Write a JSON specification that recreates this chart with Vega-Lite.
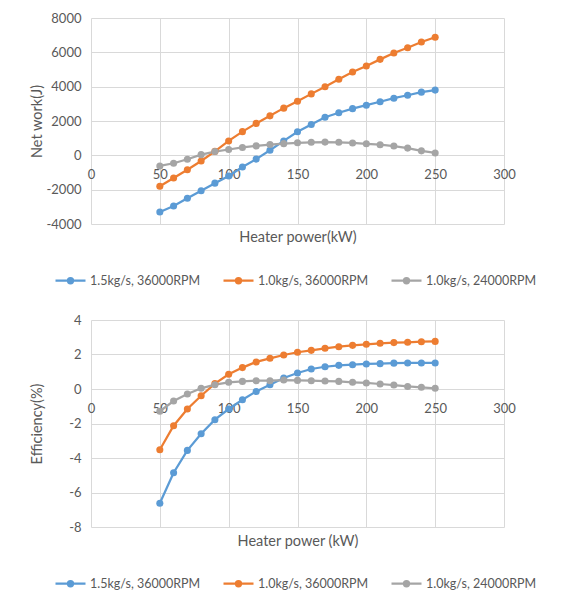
{
  "$schema": "https://vega.github.io/schema/vega-lite/v6.json",
  "background": "white",
  "padding": {"left": 29, "top": 12, "right": 5, "bottom": 5},
  "spacing": 26,
  "config": {
    "font": "Lato",
    "view": {"stroke": null},
    "axis": {
      "gridColor": "#d9d9d9",
      "gridWidth": 1,
      "domain": false,
      "ticks": false,
      "labelColor": "#595959",
      "titleColor": "#595959",
      "labelFontSize": 13,
      "titleFontSize": 14.5,
      "titleFontWeight": "normal",
      "labelPadding": 10,
      "labelOverlap": false
    }
  },
  "datasets": {
    "d": [
      {"power": 50, "series": "1.5kg/s, 36000RPM", "work": -3300, "eff": -6.62},
      {"power": 60, "series": "1.5kg/s, 36000RPM", "work": -2950, "eff": -4.85},
      {"power": 70, "series": "1.5kg/s, 36000RPM", "work": -2500, "eff": -3.56},
      {"power": 80, "series": "1.5kg/s, 36000RPM", "work": -2060, "eff": -2.59},
      {"power": 90, "series": "1.5kg/s, 36000RPM", "work": -1620, "eff": -1.78},
      {"power": 100, "series": "1.5kg/s, 36000RPM", "work": -1200, "eff": -1.16},
      {"power": 110, "series": "1.5kg/s, 36000RPM", "work": -680, "eff": -0.62},
      {"power": 120, "series": "1.5kg/s, 36000RPM", "work": -220, "eff": -0.14},
      {"power": 130, "series": "1.5kg/s, 36000RPM", "work": 300, "eff": 0.25},
      {"power": 140, "series": "1.5kg/s, 36000RPM", "work": 840, "eff": 0.64},
      {"power": 150, "series": "1.5kg/s, 36000RPM", "work": 1370, "eff": 0.93},
      {"power": 160, "series": "1.5kg/s, 36000RPM", "work": 1800, "eff": 1.16},
      {"power": 170, "series": "1.5kg/s, 36000RPM", "work": 2220, "eff": 1.29},
      {"power": 180, "series": "1.5kg/s, 36000RPM", "work": 2480, "eff": 1.37},
      {"power": 190, "series": "1.5kg/s, 36000RPM", "work": 2720, "eff": 1.41},
      {"power": 200, "series": "1.5kg/s, 36000RPM", "work": 2920, "eff": 1.45},
      {"power": 210, "series": "1.5kg/s, 36000RPM", "work": 3120, "eff": 1.47},
      {"power": 220, "series": "1.5kg/s, 36000RPM", "work": 3330, "eff": 1.5},
      {"power": 230, "series": "1.5kg/s, 36000RPM", "work": 3500, "eff": 1.51},
      {"power": 240, "series": "1.5kg/s, 36000RPM", "work": 3680, "eff": 1.51},
      {"power": 250, "series": "1.5kg/s, 36000RPM", "work": 3800, "eff": 1.51},
      {"power": 50, "series": "1.0kg/s, 36000RPM", "work": -1800, "eff": -3.52},
      {"power": 60, "series": "1.0kg/s, 36000RPM", "work": -1320, "eff": -2.13},
      {"power": 70, "series": "1.0kg/s, 36000RPM", "work": -840, "eff": -1.16},
      {"power": 80, "series": "1.0kg/s, 36000RPM", "work": -330, "eff": -0.39},
      {"power": 90, "series": "1.0kg/s, 36000RPM", "work": 230, "eff": 0.31},
      {"power": 100, "series": "1.0kg/s, 36000RPM", "work": 840, "eff": 0.85},
      {"power": 110, "series": "1.0kg/s, 36000RPM", "work": 1380, "eff": 1.24},
      {"power": 120, "series": "1.0kg/s, 36000RPM", "work": 1860, "eff": 1.57},
      {"power": 130, "series": "1.0kg/s, 36000RPM", "work": 2300, "eff": 1.78},
      {"power": 140, "series": "1.0kg/s, 36000RPM", "work": 2750, "eff": 1.97},
      {"power": 150, "series": "1.0kg/s, 36000RPM", "work": 3150, "eff": 2.13},
      {"power": 160, "series": "1.0kg/s, 36000RPM", "work": 3580, "eff": 2.24},
      {"power": 170, "series": "1.0kg/s, 36000RPM", "work": 4000, "eff": 2.36},
      {"power": 180, "series": "1.0kg/s, 36000RPM", "work": 4430, "eff": 2.45},
      {"power": 190, "series": "1.0kg/s, 36000RPM", "work": 4850, "eff": 2.53},
      {"power": 200, "series": "1.0kg/s, 36000RPM", "work": 5200, "eff": 2.59},
      {"power": 210, "series": "1.0kg/s, 36000RPM", "work": 5590, "eff": 2.65},
      {"power": 220, "series": "1.0kg/s, 36000RPM", "work": 5960, "eff": 2.69},
      {"power": 230, "series": "1.0kg/s, 36000RPM", "work": 6270, "eff": 2.71},
      {"power": 240, "series": "1.0kg/s, 36000RPM", "work": 6600, "eff": 2.74},
      {"power": 250, "series": "1.0kg/s, 36000RPM", "work": 6880, "eff": 2.76},
      {"power": 50, "series": "1.0kg/s, 24000RPM", "work": -620, "eff": -1.29},
      {"power": 60, "series": "1.0kg/s, 24000RPM", "work": -460, "eff": -0.7},
      {"power": 70, "series": "1.0kg/s, 24000RPM", "work": -230, "eff": -0.29},
      {"power": 80, "series": "1.0kg/s, 24000RPM", "work": 40, "eff": 0.04},
      {"power": 90, "series": "1.0kg/s, 24000RPM", "work": 220, "eff": 0.25},
      {"power": 100, "series": "1.0kg/s, 24000RPM", "work": 340, "eff": 0.39},
      {"power": 110, "series": "1.0kg/s, 24000RPM", "work": 460, "eff": 0.44},
      {"power": 120, "series": "1.0kg/s, 24000RPM", "work": 550, "eff": 0.48},
      {"power": 130, "series": "1.0kg/s, 24000RPM", "work": 630, "eff": 0.48},
      {"power": 140, "series": "1.0kg/s, 24000RPM", "work": 680, "eff": 0.52},
      {"power": 150, "series": "1.0kg/s, 24000RPM", "work": 730, "eff": 0.5},
      {"power": 160, "series": "1.0kg/s, 24000RPM", "work": 760, "eff": 0.48},
      {"power": 170, "series": "1.0kg/s, 24000RPM", "work": 770, "eff": 0.46},
      {"power": 180, "series": "1.0kg/s, 24000RPM", "work": 760, "eff": 0.44},
      {"power": 190, "series": "1.0kg/s, 24000RPM", "work": 720, "eff": 0.39},
      {"power": 200, "series": "1.0kg/s, 24000RPM", "work": 670, "eff": 0.35},
      {"power": 210, "series": "1.0kg/s, 24000RPM", "work": 620, "eff": 0.29},
      {"power": 220, "series": "1.0kg/s, 24000RPM", "work": 540, "eff": 0.23},
      {"power": 230, "series": "1.0kg/s, 24000RPM", "work": 420, "eff": 0.15},
      {"power": 240, "series": "1.0kg/s, 24000RPM", "work": 260, "eff": 0.1},
      {"power": 250, "series": "1.0kg/s, 24000RPM", "work": 140, "eff": 0.04}
    ]
  },
  "resolve": {"legend": {"color": "independent"}},
  "vconcat": [
    {
      "width": 413,
      "height": 206,
      "data": {"name": "d"},
      "mark": {"type": "line", "strokeWidth": 2.25, "point": {"filled": true, "size": 50}},
      "encoding": {
        "x": {
          "field": "power", "type": "quantitative",
          "scale": {"domain": [0, 300], "nice": false, "zero": false},
          "axis": {"values": [0, 50, 100, 150, 200, 250, 300], "offset": -68.67, "labelPadding": 13, "labelFlush": false, "title": "Heater power(kW)", "titleY": 82, "titleBaseline": "middle"}
        },
        "y": {
          "field": "work", "type": "quantitative",
          "scale": {"domain": [-4000, 8000], "nice": false},
          "axis": {"values": [-4000, -2000, 0, 2000, 4000, 6000, 8000], "labelExpr": "'' + datum.value", "title": "Net work(J)", "minExtent": 40, "maxExtent": 40, "titlePadding": 7}
        },
        "color": {
          "field": "series", "type": "nominal",
          "scale": {"domain": ["1.5kg/s, 36000RPM", "1.0kg/s, 36000RPM", "1.0kg/s, 24000RPM"], "range": ["#5B9BD5", "#ED7D31", "#A5A5A5"]},
          "legend": {
            "orient": "none", "direction": "horizontal", "legendX": -37, "legendY": 246, "title": null,
            "labelFontSize": 12.5, "labelColor": "#595959", "columnPadding": 18, "labelOffset": 3,
            "symbolSize": 900, "symbolStrokeWidth": 2.25,
            "symbolType": "M-1,0L1,0M-0.17,0A0.17,0.17 0 1,1 0.17,0A0.17,0.17 0 1,1 -0.17,0",
            "encode": {"symbols": {"update": {"fill": {"scale": "color", "field": "value"}, "stroke": {"scale": "color", "field": "value"}}}}
          }
        }
      }
    },
    {
      "width": 413,
      "height": 207,
      "data": {"name": "d"},
      "mark": {"type": "line", "strokeWidth": 2.25, "point": {"filled": true, "size": 50}},
      "encoding": {
        "x": {
          "field": "power", "type": "quantitative",
          "scale": {"domain": [0, 300], "nice": false, "zero": false},
          "axis": {"values": [0, 50, 100, 150, 200, 250, 300], "offset": -138, "labelPadding": 13, "labelFlush": false, "title": "Heater power (kW)", "titleY": 152, "titleBaseline": "middle"}
        },
        "y": {
          "field": "eff", "type": "quantitative",
          "scale": {"domain": [-8, 4], "nice": false},
          "axis": {"values": [-8, -6, -4, -2, 0, 2, 4], "labelExpr": "'' + datum.value", "title": "Efficiency(%)", "minExtent": 40, "maxExtent": 40, "titlePadding": 7}
        },
        "color": {
          "field": "series", "type": "nominal",
          "scale": {"domain": ["1.5kg/s, 36000RPM", "1.0kg/s, 36000RPM", "1.0kg/s, 24000RPM"], "range": ["#5B9BD5", "#ED7D31", "#A5A5A5"]},
          "legend": {
            "orient": "none", "direction": "horizontal", "legendX": -37, "legendY": 247, "title": null,
            "labelFontSize": 12.5, "labelColor": "#595959", "columnPadding": 18, "labelOffset": 3,
            "symbolSize": 900, "symbolStrokeWidth": 2.25,
            "symbolType": "M-1,0L1,0M-0.17,0A0.17,0.17 0 1,1 0.17,0A0.17,0.17 0 1,1 -0.17,0",
            "encode": {"symbols": {"update": {"fill": {"scale": "color", "field": "value"}, "stroke": {"scale": "color", "field": "value"}}}}
          }
        }
      }
    }
  ]
}
